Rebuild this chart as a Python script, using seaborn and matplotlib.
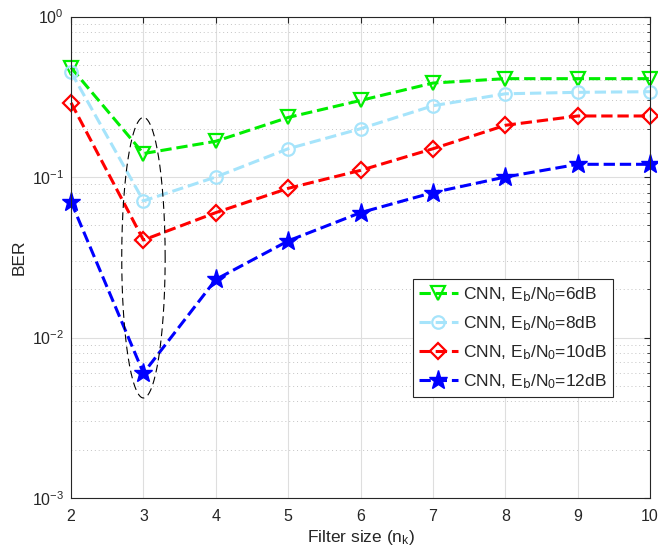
import matplotlib
matplotlib.use("Agg")
import matplotlib.pyplot as plt
import numpy as np
import seaborn as sns
from matplotlib.ticker import LogLocator, NullLocator, NullFormatter

# データ
filter_sizes = [2, 3, 4, 5, 6, 7, 8, 9, 10]
ber_6db = [0.48, 0.14, 0.167, 0.235, 0.30, 0.385, 0.41, 0.41, 0.41]
ber_8db = [0.45, 0.071, 0.10, 0.15, 0.20, 0.278, 0.33, 0.337, 0.34]
ber_10db = [0.29, 0.0405, 0.06, 0.085, 0.11, 0.15, 0.21, 0.24, 0.24]
ber_12db = [0.07, 0.006, 0.023, 0.04, 0.06, 0.08, 0.10, 0.12, 0.12]
labels = [
    r"CNN, E$_\mathrm{b}$/N$_0$=6dB",
    r"CNN, E$_\mathrm{b}$/N$_0$=8dB",
    r"CNN, E$_\mathrm{b}$/N$_0$=10dB",
    r"CNN, E$_\mathrm{b}$/N$_0$=12dB",
]

# 楕円（注目領域）のパラメータ
ellipse_x = 3
ellipse_half_width = 0.3
ellipse_y_top = 0.235
ellipse_y_bottom = 0.0042

sns.set_style("white")
plt.rcParams["font.family"] = ["Liberation Sans", "DejaVu Sans"]
plt.rcParams["mathtext.default"] = "regular"

fig = plt.figure(figsize=(6.58, 5.5), dpi=100)
ax = fig.add_axes([0.108, 0.0945, 0.88, 0.8755])

styles = [
    dict(color="#00ee00", marker="v", mfc="none", mew=1.6, ms=10),
    dict(color="#a6e4fb", marker="o", mfc="none", mew=1.6, ms=9),
    dict(color="#ff0000", marker="D", mfc="none", mew=1.6, ms=8),
    dict(color="#0000ff", marker="*", mfc="#0000ff", mew=1.0, ms=14),
]
series = [ber_6db, ber_8db, ber_10db, ber_12db]

for vals, lab, st in zip(series, labels, styles):
    sns.lineplot(x=filter_sizes, y=vals, ax=ax, label=lab, linestyle="--",
                 linewidth=2.2, markeredgecolor=st["color"], clip_on=False, **st)

# 楕円
theta = np.linspace(0, 2 * np.pi, 300)
c = (np.log10(ellipse_y_top) + np.log10(ellipse_y_bottom)) / 2
r = (np.log10(ellipse_y_top) - np.log10(ellipse_y_bottom)) / 2
ax.plot(ellipse_x + ellipse_half_width * np.cos(theta), 10 ** (c + r * np.sin(theta)),
        color="black", linestyle=(0, (7, 4)), linewidth=0.8)

ax.set_yscale("log")
ax.set_xlim(2, 10)
ax.set_ylim(1e-3, 1)
ax.set_xticks(filter_sizes)
ax.yaxis.set_major_locator(LogLocator(base=10, numticks=10))
ax.yaxis.set_minor_locator(LogLocator(base=10, subs=np.arange(2, 10), numticks=20))
ax.yaxis.set_minor_formatter(NullFormatter())
ax.xaxis.set_minor_locator(NullLocator())

ax.grid(which="major", color="#dedede", linewidth=0.8, linestyle="-")
ax.yaxis.grid(which="minor", color="#c4c4c4", linewidth=0.7, linestyle=(0, (1, 3)))
ax.set_axisbelow(True)

ax.tick_params(which="both", direction="in", top=True, right=True, colors="#262626",
               labelsize=11.5, length=4)
ax.tick_params(axis="x", pad=8)
ax.tick_params(axis="y", pad=5)
ax.tick_params(which="minor", length=2.5)
for sp in ax.spines.values():
    sp.set_color("#262626")
    sp.set_linewidth(0.8)

ax.set_xlabel("Filter size (n$_k$)", fontsize=12.5, color="#262626", labelpad=3)
ax.set_ylabel("BER", fontsize=12.5, color="#262626", labelpad=4)

leg = ax.legend(loc="upper left", bbox_to_anchor=(0.591, 0.455), fontsize=12.5,
                frameon=True, fancybox=False, edgecolor="#262626", framealpha=1,
                handlelength=2.2, handletextpad=0.3, borderpad=0.35, labelspacing=0.6,
                borderaxespad=0)
leg.get_frame().set_linewidth(0.8)

plt.savefig("out.png", dpi=100)
plt.close()
